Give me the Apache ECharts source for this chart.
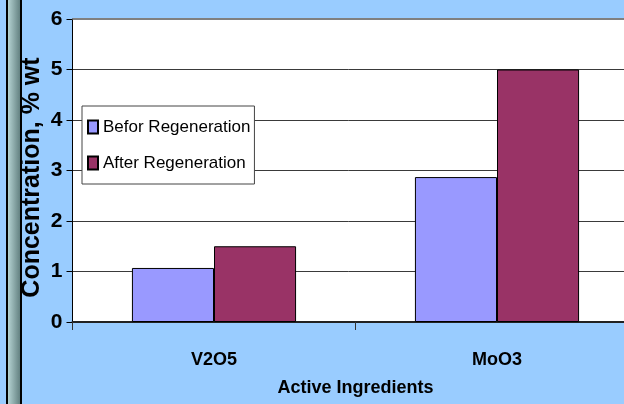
<!DOCTYPE html>
<html>
<head>
<meta charset="utf-8">
<script src="https://cdn.jsdelivr.net/npm/echarts@6/dist/echarts.min.js"></script>
<style>
  html, body { margin: 0; padding: 0; background: #99CCFF; }
  #chart { width: 624px; height: 404px; }
</style>
</head>
<body>
<div id="chart"></div>
<script>
// Catalyst active ingredient content before and after regeneration
const categories = ['V2O5', 'MoO3'];
const seriesNames = ['Befor Regeneration', 'After Regeneration'];
const beforeValues = [1.07, 2.87];
const afterValues = [1.5, 5.0];
const yTicks = [0, 1, 2, 3, 4, 5, 6];

const font = '"Liberation Sans", Arial, sans-serif';

const chart = echarts.init(document.getElementById('chart'), null, { renderer: 'canvas' });

chart.setOption({
  backgroundColor: '#99CCFF',
  animation: false,
  graphic: [
    // window frame strip at the left edge
    { type: 'rect', shape: { x: 6, y: 0, width: 2, height: 404 }, style: { fill: '#000' } },
    {
      type: 'rect', shape: { x: 8, y: 0, width: 12, height: 404 },
      style: {
        fill: new echarts.graphic.LinearGradient(0, 0, 1, 0, [
          { offset: 0, color: '#b4d2d2' },
          { offset: 1, color: '#648282' }
        ])
      }
    },
    { type: 'rect', shape: { x: 20, y: 0, width: 2, height: 404 }, style: { fill: '#000' } }
  ],
  grid: {
    left: 72.5, top: 19, width: 566, height: 303,
    outerBoundsMode: 'none',
    containLabel: false,
    backgroundColor: '#fff', show: true, borderWidth: 0
  },
  legend: {
    orient: 'vertical',
    left: 82, top: 106,
    backgroundColor: '#fff',
    borderColor: '#444',
    borderWidth: 1,
    padding: [11, 4, 11, 5],
    itemWidth: 10, itemHeight: 13,
    itemGap: 16,
    icon: 'rect',
    textStyle: { fontFamily: font, fontSize: 17, lineHeight: 20, color: '#000' },
    data: seriesNames
  },
  xAxis: {
    type: 'category',
    data: categories,
    name: 'Active Ingredients',
    nameLocation: 'middle',
    nameGap: 57,
    nameMoveOverlap: false,
    nameTextStyle: { fontFamily: font, fontSize: 18, fontWeight: 'bold', color: '#000' },
    axisLine: { lineStyle: { color: '#222', width: 2 } },
    axisTick: { show: true, length: 8, lineStyle: { color: '#333', width: 1 } },
    axisLabel: { fontFamily: font, fontSize: 18, fontWeight: 'bold', color: '#000', margin: 29 },
    splitLine: { show: false }
  },
  yAxis: {
    type: 'value',
    min: yTicks[0],
    max: yTicks[yTicks.length - 1],
    interval: 1,
    name: 'Concentration, % wt',
    nameLocation: 'middle',
    nameRotate: 90,
    nameGap: 28,
    nameMoveOverlap: false,
    nameTextStyle: { fontFamily: font, fontSize: 25, fontWeight: 'bold', color: '#000', padding: [0, 14, 0, 0] },
    axisLine: { show: true, lineStyle: { color: '#000', width: 1 } },
    axisTick: { show: true, length: 6, lineStyle: { color: '#000' } },
    axisLabel: { fontFamily: font, fontSize: 21, fontWeight: 'bold', color: '#000', margin: 10 },
    splitLine: { show: true, lineStyle: { color: '#3a3a3a', width: 1 } }
  },
  series: [
    {
      name: seriesNames[0],
      type: 'bar',
      data: beforeValues,
      barGap: '0%',
      barCategoryGap: '42%',
      itemStyle: { color: '#9999FF', borderColor: '#000', borderWidth: 1 },
      markLine: {
        silent: true, symbol: 'none', label: { show: false },
        lineStyle: { color: '#808080', width: 2, type: 'solid' },
        data: [{ yAxis: yTicks[yTicks.length - 1] }]
      }
    },
    {
      name: seriesNames[1],
      type: 'bar',
      data: afterValues,
      barGap: '0%',
      barCategoryGap: '42%',
      itemStyle: { color: '#993366', borderColor: '#000', borderWidth: 1 }
    }
  ]
});
</script>
</body>
</html>
